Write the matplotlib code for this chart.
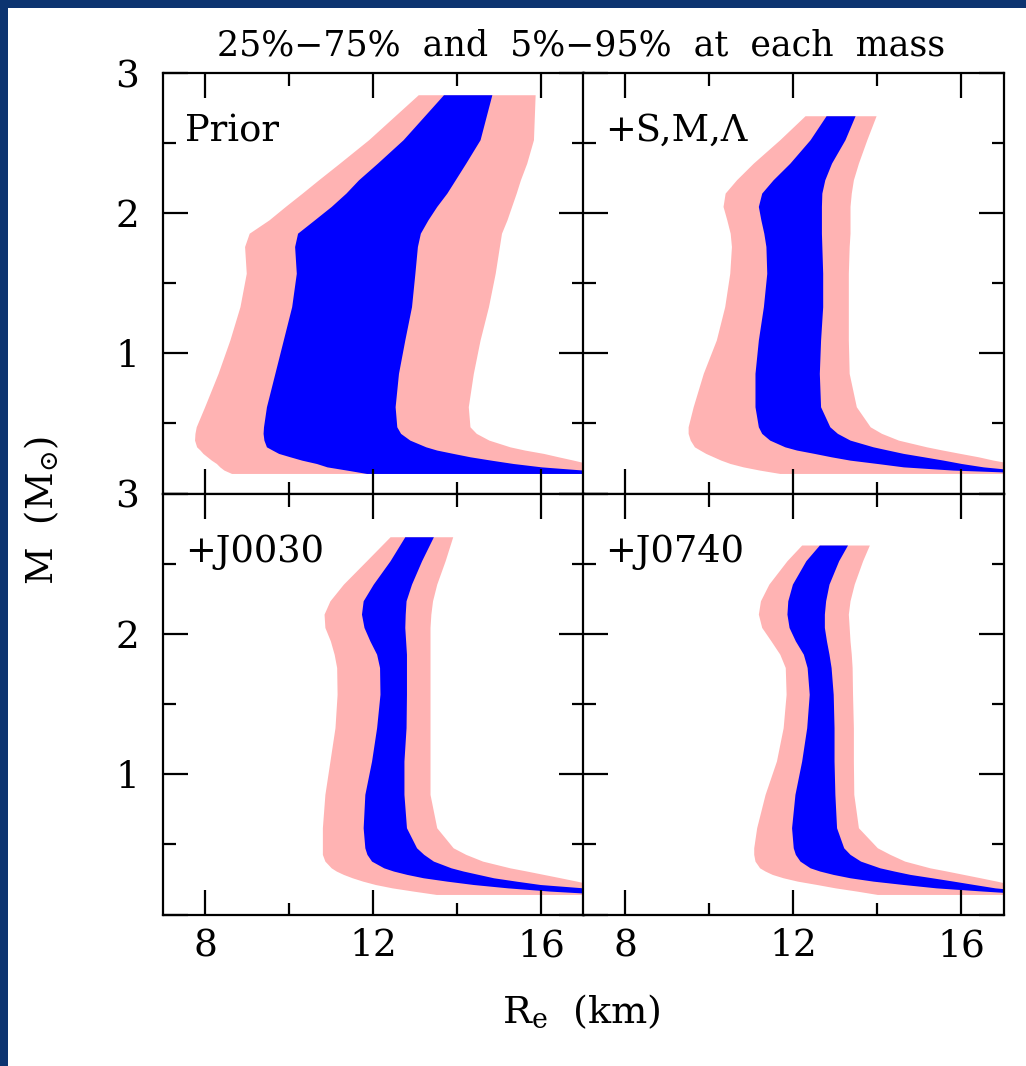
import matplotlib
matplotlib.use('Agg')
import matplotlib.pyplot as plt
from matplotlib.patches import Rectangle
from matplotlib.ticker import MultipleLocator, FixedFormatter, FixedLocator

plt.rcParams['font.family'] = 'DejaVu Serif'
plt.rcParams['mathtext.fontset'] = 'dejavuserif'

# mass grid (Msun) shared by all panels, each panel then ends at its own maximum mass
mass = [0.143, 0.167, 0.19, 0.214, 0.238, 0.262, 0.286, 0.31, 0.333, 0.381, 0.429, 0.476,
        0.619, 0.857, 1.095, 1.333, 1.571, 1.762, 1.857, 1.952, 2.048, 2.143, 2.238, 2.357, 2.524]
max_mass = [2.845, 2.695, 2.695, 2.636]
labels = ['Prior', '+S,M,Λ', '+J0030', '+J0740']

# equatorial radius (km) percentiles at each mass
prior_r05 = [8.63, 8.45, 8.35, 8.27, 8.15, 8.05, 7.95, 7.88, 7.80, 7.75, 7.76, 7.79, 7.99, 8.31,
             8.59, 8.83, 8.98, 8.94, 9.05, 9.52, 9.91, 10.31, 10.70, 11.20, 11.89, 13.07]
prior_r25 = [11.84, 11.37, 10.90, 10.65, 10.30, 10.02, 9.75, 9.60, 9.46, 9.40, 9.38, 9.39, 9.46,
             9.66, 9.86, 10.06, 10.17, 10.13, 10.20, 10.60, 11.00, 11.35, 11.65, 12.10, 12.71, 13.67]
prior_r75 = [19.5, 17.0, 16.0, 15.33, 14.8, 14.30, 13.9, 13.51, 13.25, 12.87, 12.65, 12.56, 12.52,
             12.60, 12.75, 12.91, 12.99, 13.05, 13.12, 13.30, 13.51, 13.75, 13.95, 14.20, 14.54, 14.82]
prior_r95 = [23.0, 20.0, 18.2, 17.1, 16.76, 16.4, 16.05, 15.6, 15.25, 14.75, 14.45, 14.30, 14.26,
             14.38, 14.54, 14.74, 14.90, 15.0, 15.05, 15.18, 15.29, 15.40, 15.50, 15.65, 15.81, 15.85]

sml_r05 = [11.68, 11.2, 10.81, 10.5, 10.28, 10.10, 9.92, 9.78, 9.65, 9.55, 9.50, 9.50, 9.62, 9.86,
           10.17, 10.37, 10.49, 10.53, 10.50, 10.42, 10.33, 10.38, 10.65, 11.05, 11.68, 12.28]
sml_r25 = [18.0, 15.8, 14.62, 14.0, 13.35, 12.9, 12.5, 12.08, 11.8, 11.44, 11.25, 11.17, 11.09,
           11.09, 11.17, 11.29, 11.37, 11.35, 11.30, 11.23, 11.17, 11.25, 11.52, 11.92, 12.40, 12.78]
sml_r75 = [20.0, 17.3, 16.52, 16.0, 15.57, 15.1, 14.62, 14.25, 13.90, 13.35, 13.05, 12.87, 12.65,
           12.62, 12.65, 12.70, 12.70, 12.68, 12.67, 12.67, 12.67, 12.68, 12.75, 12.91, 13.23, 13.47]
sml_r95 = [24.0, 21.0, 19.0, 17.2, 16.76, 16.4, 15.97, 15.55, 15.17, 14.5, 14.1, 13.83, 13.5,
           13.33, 13.31, 13.31, 13.31, 13.33, 13.35, 13.35, 13.35, 13.38, 13.43, 13.55, 13.75, 13.97]

j0030_r05 = [13.5, 12.95, 12.45, 12.05, 11.75, 11.5, 11.29, 11.12, 11.0, 10.85, 10.79, 10.79, 10.79,
             10.85, 10.97, 11.09, 11.14, 11.13, 11.07, 10.98, 10.85, 10.83, 10.97, 11.29, 11.84, 12.40]
j0030_r25 = [17.6, 16.2, 15.2, 14.38, 13.75, 13.19, 12.8, 12.48, 12.25, 11.96, 11.85, 11.80, 11.76,
             11.80, 11.96, 12.08, 12.16, 12.15, 12.08, 11.92, 11.78, 11.72, 11.76, 12.0, 12.40, 12.75]
j0030_r75 = [20.5, 18.0, 17.0, 15.97, 15.4, 14.86, 14.5, 14.14, 13.85, 13.43, 13.2, 13.03, 12.79,
             12.73, 12.73, 12.78, 12.79, 12.79, 12.79, 12.77, 12.75, 12.76, 12.78, 12.91, 13.15, 13.43]
j0030_r95 = [24.0, 21.0, 19.0, 17.2, 16.84, 16.45, 16.05, 15.65, 15.25, 14.6, 14.2, 13.9, 13.51,
             13.35, 13.35, 13.35, 13.35, 13.35, 13.35, 13.35, 13.35, 13.37, 13.41, 13.51, 13.71, 13.89]

j0740_r05 = [14.0, 13.51, 13.0, 12.56, 12.1, 11.76, 11.5, 11.33, 11.2, 11.09, 11.06, 11.06, 11.13,
             11.33, 11.60, 11.76, 11.83, 11.81, 11.68, 11.47, 11.25, 11.17, 11.22, 11.42, 11.85, 12.20]
j0740_r25 = [17.8, 16.52, 15.4, 14.62, 13.9, 13.35, 12.95, 12.63, 12.4, 12.16, 12.05, 12.0, 11.96,
             12.04, 12.20, 12.32, 12.38, 12.33, 12.24, 12.05, 11.9, 11.85, 11.87, 11.98, 12.3, 12.62]
j0740_r75 = [20.0, 17.6, 16.8, 16.3, 15.81, 15.3, 14.78, 14.4, 14.06, 13.6, 13.35, 13.2, 13.03,
             12.99, 12.97, 12.97, 12.95, 12.9, 12.85, 12.79, 12.74, 12.74, 12.77, 12.85, 13.08, 13.29]
j0740_r95 = [24.0, 21.0, 19.0, 17.2, 16.84, 16.45, 16.05, 15.65, 15.25, 14.65, 14.3, 14.0, 13.55,
             13.44, 13.43, 13.43, 13.41, 13.4, 13.38, 13.35, 13.33, 13.31, 13.35, 13.45, 13.65, 13.81]

bands = [(prior_r05, prior_r25, prior_r75, prior_r95),
         (sml_r05, sml_r25, sml_r75, sml_r95),
         (j0030_r05, j0030_r25, j0030_r75, j0030_r95),
         (j0740_r05, j0740_r25, j0740_r75, j0740_r95)]

W, H = 1026, 1066
fig = plt.figure(figsize=(W / 100, H / 100), dpi=100)
fig.patch.set_facecolor('#0c3470')
# white sheet on the dark slide background
fig.patches.append(Rectangle((8 / W, 0), 1 - 8 / W, 1 - 8 / H, transform=fig.transFigure,
                             facecolor='white', edgecolor='none', zorder=-5))

# panel corners in pixels: (left, top)
corners = [(163, 73), (583, 73), (163, 494), (583, 494)]
pw, ph = 420.5, 420.5

for i, (x0, y0) in enumerate(corners):
    ax = fig.add_axes([x0 / W, 1 - (y0 + ph) / H, pw / W, ph / H])
    ax.set_zorder(1)
    r05, r25, r75, r95 = bands[i]
    m = mass + [max_mass[i]]
    ax.fill_betweenx(m, r05, r95, color='#ffb3b3', lw=0)
    ax.fill_betweenx(m, r25, r75, color='#0000ff', lw=0)

    ax.set_xlim(7, 17)
    ax.set_ylim(0, 3)
    ax.xaxis.set_major_locator(MultipleLocator(4))
    ax.xaxis.set_minor_locator(MultipleLocator(2))
    ax.yaxis.set_major_locator(FixedLocator([0, 1, 2, 3]))
    ax.yaxis.set_minor_locator(MultipleLocator(0.5))
    ax.tick_params(which='both', direction='in', top=True, right=True, width=1.6,
                   labelsize=27, color='black')
    ax.tick_params(which='major', length=18)
    ax.tick_params(which='minor', length=9)
    ax.tick_params(axis='y', pad=17)
    ax.tick_params(axis='x', pad=10)
    for s in ax.spines.values():
        s.set_linewidth(1.6)

    if i % 2 == 0:
        ax.yaxis.set_major_formatter(FixedFormatter(['', '1', '2', '3']))
    else:
        ax.set_yticklabels([])
    if i < 2:
        ax.set_xticklabels([])

    ax.text(0.052, 0.862, labels[i], transform=ax.transAxes, fontsize=26.5,
            ha='left', va='center')

fig.text(581 / W, 1 - 45 / H, '25%−75%  and  5%−95%  at  each  mass', fontsize=25,
         ha='center', va='center')
fig.text(42 / W, 1 - 510 / H, r'M  (M$_{\odot}$)', fontsize=26.5, rotation=90,
         ha='center', va='center')
fig.text(581 / W, 1 - 1012 / H, r'R$_{\rm e}$  (km)', fontsize=27.5, ha='center', va='center')

fig.savefig('out.png', dpi=100, facecolor=fig.get_facecolor())
